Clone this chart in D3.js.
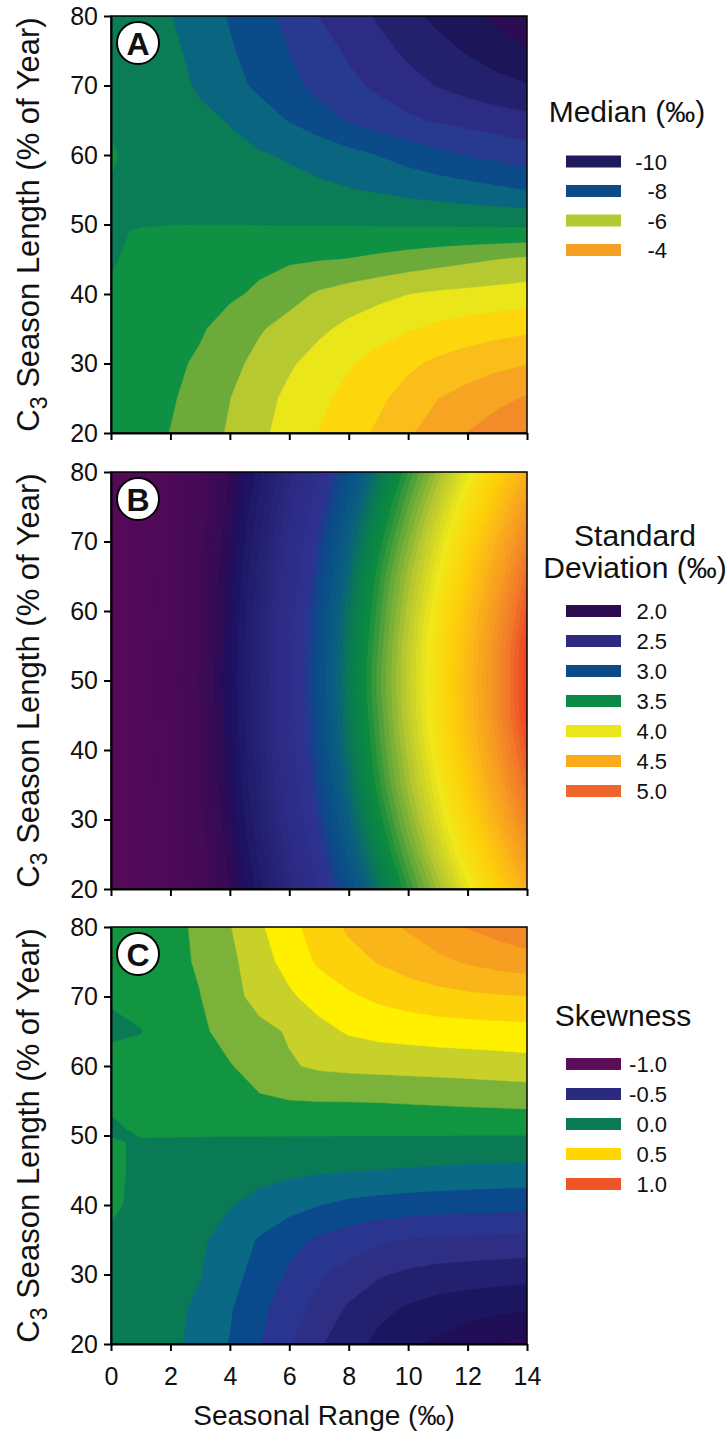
<!DOCTYPE html>
<html>
<head>
<meta charset="utf-8">
<script src="https://cdn.jsdelivr.net/npm/d3@7.9.0/dist/d3.min.js"></script>
<style>
  body { margin: 0; background: #fff; }
  text { font-family: "Liberation Sans", Arial, sans-serif; fill: #111; }
</style>
</head>
<body>
<div id="chart"></div>
<script>
// grid the simulations were read on: seasonal range (‰) and C3 season length (% of year)
const seasonalRange = [0, 1, 2, 3, 4, 5, 6, 7, 8, 9, 10, 11, 12, 13, 14];
const seasonLength = [80, 75, 70, 65, 60, 55, 51, 49, 45, 40, 35, 30, 25, 20];

// panel A: median (‰), one row per season length
const medianGrid = [
  [-7.12, -7.28, -7.49, -7.76, -8.04, -8.33, -8.64, -9.01, -9.28, -9.56, -9.85, -10.13, -10.38, -10.62, -10.85],
  [-7.10, -7.22, -7.40, -7.66, -7.95, -8.22, -8.51, -8.80, -9.08, -9.35, -9.60, -9.83, -10.05, -10.27, -10.48],
  [-7.10, -7.20, -7.35, -7.56, -7.84, -8.10, -8.37, -8.64, -8.88, -9.10, -9.33, -9.53, -9.70, -9.84, -9.97],
  [-7.05, -7.15, -7.28, -7.40, -7.53, -7.78, -8.03, -8.30, -8.55, -8.75, -8.92, -9.06, -9.16, -9.26, -9.36],
  [-6.96, -7.12, -7.20, -7.30, -7.38, -7.46, -7.56, -7.68, -7.85, -8.02, -8.20, -8.38, -8.52, -8.64, -8.76],
  [-7.02, -7.10, -7.14, -7.18, -7.22, -7.27, -7.33, -7.41, -7.48, -7.55, -7.64, -7.73, -7.82, -7.92, -8.02],
  [-7.05, -7.08, -7.10, -7.10, -7.12, -7.13, -7.14, -7.15, -7.16, -7.18, -7.19, -7.20, -7.22, -7.23, -7.25],
  [-7.05, -6.97, -6.92, -6.91, -6.90, -6.90, -6.90, -6.90, -6.90, -6.90, -6.90, -6.90, -6.90, -6.90, -6.90],
  [-7.03, -6.92, -6.82, -6.75, -6.68, -6.62, -6.57, -6.53, -6.49, -6.40, -6.30, -6.20, -6.10, -6.01, -5.92],
  [-6.96, -6.86, -6.78, -6.68, -6.58, -6.42, -6.18, -5.94, -5.78, -5.64, -5.51, -5.43, -5.38, -5.33, -5.28],
  [-6.90, -6.82, -6.70, -6.56, -6.30, -6.05, -5.82, -5.60, -5.38, -5.20, -5.04, -4.90, -4.78, -4.68, -4.60],
  [-6.88, -6.78, -6.62, -6.42, -6.15, -5.85, -5.57, -5.30, -5.05, -4.82, -4.60, -4.40, -4.25, -4.12, -4.03],
  [-6.85, -6.75, -6.56, -6.30, -6.01, -5.70, -5.38, -5.12, -4.85, -4.60, -4.30, -4.01, -3.82, -3.64, -3.45],
  [-6.80, -6.68, -6.49, -6.22, -5.95, -5.61, -5.30, -4.99, -4.70, -4.42, -4.07, -3.77, -3.49, -3.22, -2.95]
];

// panel B: standard deviation (‰)
const sdGrid = [
  [1.83, 1.86, 1.93, 2.05, 2.20, 2.38, 2.58, 2.81, 3.04, 3.29, 3.55, 3.81, 4.08, 4.35, 4.63],
  [1.83, 1.86, 1.94, 2.06, 2.22, 2.42, 2.63, 2.87, 3.12, 3.38, 3.65, 3.93, 4.21, 4.49, 4.79],
  [1.83, 1.86, 1.94, 2.08, 2.25, 2.45, 2.68, 2.93, 3.19, 3.46, 3.74, 4.03, 4.32, 4.62, 4.92],
  [1.83, 1.86, 1.95, 2.09, 2.27, 2.48, 2.72, 2.97, 3.24, 3.53, 3.82, 4.11, 4.41, 4.72, 5.03],
  [1.83, 1.86, 1.95, 2.10, 2.28, 2.50, 2.75, 3.01, 3.29, 3.57, 3.87, 4.18, 4.48, 4.80, 5.11],
  [1.83, 1.86, 1.96, 2.10, 2.29, 2.51, 2.76, 3.02, 3.31, 3.60, 3.91, 4.22, 4.53, 4.85, 5.18],
  [1.83, 1.86, 1.96, 2.11, 2.30, 2.52, 2.77, 3.04, 3.32, 3.62, 3.92, 4.23, 4.54, 4.86, 5.19],
  [1.83, 1.86, 1.96, 2.11, 2.30, 2.52, 2.77, 3.04, 3.32, 3.62, 3.92, 4.23, 4.54, 4.86, 5.19],
  [1.83, 1.86, 1.96, 2.10, 2.29, 2.51, 2.76, 3.02, 3.31, 3.60, 3.91, 4.22, 4.53, 4.85, 5.18],
  [1.83, 1.86, 1.95, 2.10, 2.28, 2.50, 2.75, 3.01, 3.29, 3.57, 3.87, 4.18, 4.48, 4.80, 5.11],
  [1.83, 1.86, 1.95, 2.09, 2.27, 2.48, 2.72, 2.97, 3.24, 3.53, 3.82, 4.11, 4.41, 4.72, 5.03],
  [1.83, 1.86, 1.94, 2.08, 2.25, 2.45, 2.68, 2.93, 3.19, 3.46, 3.74, 4.03, 4.32, 4.62, 4.92],
  [1.83, 1.86, 1.94, 2.06, 2.22, 2.42, 2.63, 2.87, 3.12, 3.38, 3.65, 3.93, 4.21, 4.49, 4.79],
  [1.83, 1.86, 1.93, 2.05, 2.20, 2.38, 2.58, 2.81, 3.04, 3.29, 3.55, 3.81, 4.08, 4.35, 4.63]
];

// panel C: skewness
const skewGrid = [
  [0.12, 0.14, 0.17, 0.22, 0.295, 0.385, 0.47, 0.545, 0.615, 0.665, 0.71, 0.755, 0.805, 0.84, 0.88],
  [0.12, 0.145, 0.175, 0.21, 0.275, 0.36, 0.435, 0.515, 0.565, 0.605, 0.645, 0.68, 0.71, 0.735, 0.755],
  [0.11, 0.15, 0.175, 0.198, 0.26, 0.34, 0.385, 0.44, 0.485, 0.52, 0.545, 0.565, 0.58, 0.59, 0.598],
  [0.08, 0.095, 0.16, 0.185, 0.23, 0.27, 0.31, 0.37, 0.41, 0.43, 0.44, 0.45, 0.455, 0.46, 0.465],
  [0.14, 0.15, 0.165, 0.18, 0.195, 0.235, 0.29, 0.315, 0.325, 0.33, 0.335, 0.34, 0.345, 0.352, 0.36],
  [0.12, 0.15, 0.16, 0.17, 0.18, 0.19, 0.198, 0.202, 0.203, 0.205, 0.21, 0.215, 0.22, 0.225, 0.23],
  [0.08, 0.12, 0.125, 0.125, 0.125, 0.125, 0.126, 0.127, 0.127, 0.127, 0.127, 0.127, 0.127, 0.127, 0.128],
  [0.11, 0.09, 0.085, 0.083, 0.08, 0.08, 0.078, 0.077, 0.076, 0.075, 0.074, 0.073, 0.072, 0.071, 0.07],
  [0.12, 0.08, 0.065, 0.05, 0.04, 0.03, 0.02, 0.012, 0.005, -0.002, -0.01, -0.016, -0.022, -0.027, -0.03],
  [0.12, 0.07, 0.05, 0.03, 0.005, -0.03, -0.065, -0.098, -0.125, -0.14, -0.15, -0.158, -0.163, -0.167, -0.172],
  [0.08, 0.07, 0.05, 0.015, -0.045, -0.11, -0.17, -0.215, -0.25, -0.285, -0.305, -0.315, -0.32, -0.325, -0.33],
  [0.06, 0.05, 0.035, 0.003, -0.065, -0.14, -0.215, -0.285, -0.34, -0.39, -0.42, -0.44, -0.45, -0.458, -0.465],
  [0.05, 0.04, 0.025, -0.02, -0.092, -0.178, -0.255, -0.335, -0.415, -0.47, -0.515, -0.545, -0.565, -0.58, -0.59],
  [0.04, 0.03, 0.025, -0.035, -0.105, -0.195, -0.29, -0.39, -0.455, -0.53, -0.575, -0.62, -0.655, -0.705, -0.73]
];

const xTicks = [0, 2, 4, 6, 8, 10, 12, 14];
const yTicks = [20, 30, 40, 50, 60, 70, 80];
const medianKeys = [-10, -8, -6, -4];
const sdKeys = [2.0, 2.5, 3.0, 3.5, 4.0, 4.5, 5.0];
const skewKeys = [-1.0, -0.5, 0.0, 0.5, 1.0];

// colours (one per contour band, lowest first)
const medianBands = ["#2b0b52", "#1c1558", "#23206e", "#2c2c84", "#283a90", "#0b4b8a", "#0a6680", "#0a7c56",
  "#0f9143", "#6cab3a", "#b7c931", "#ebe61a", "#fdd60b", "#fabd19", "#f6a421", "#f28b28", "#ef7a2b"];
const skewBands = ["#5a0f58", "#4c0c58", "#2e0a52", "#1f0e55", "#1c1560", "#242070", "#2e2e85", "#2a3590",
  "#0a4a8c", "#0a6a85", "#0a7a55", "#129540", "#7ab23a", "#c8d02a", "#fff000", "#fdd20a", "#f9b51a",
  "#f7a020", "#f28a28", "#ef7028", "#ee5628"];
const sdStops = [1.80, 2.10, 2.22, 2.30, 2.45, 2.65, 2.90, 3.00, 3.20, 3.32, 3.48, 3.68, 3.88, 4.12, 4.36, 4.58, 4.78, 4.97, 5.15, 5.30];
const sdStopColors = ["#560a58", "#420a56", "#300b55", "#1c1060", "#232070", "#2c2a84", "#2e3290", "#0a4a8a",
  "#0a6080", "#0a7a55", "#0b8a3c", "#6aaa3a", "#b8c830", "#f0e81a", "#fdd208", "#fbb518", "#f59a22",
  "#f17a28", "#ec4a24", "#e8361f"];
const medianKeyColors = ["#1e1a5c", "#0d4a88", "#b3c934", "#f6a023"];
const sdKeyColors = ["#2d0b4f", "#2e2a80", "#0a4a8a", "#0b8a45", "#e9e61b", "#f9ab1b", "#f0652a"];
const skewKeyColors = ["#5a0f58", "#2a2b7e", "#0a7a55", "#ffd600", "#ee5628"];

const width = 728;
const height = 1439;
const plot = { left: 111, right: 527, width: 416, height: 417 };

const svg = d3.select("#chart").append("svg")
  .attr("width", width)
  .attr("height", height);

const x = d3.scaleLinear().domain([0, 14]).range([plot.left, plot.right]);
const nx = seasonalRange.length;
const ny = seasonLength.length;
// grid index -> data value (rows are not evenly spaced near 50 %)
const colToR = d3.scaleLinear().domain(d3.range(nx)).range(seasonalRange);
const rowToL = d3.scaleLinear().domain(d3.range(ny)).range(seasonLength);

const sdColor = d3.scaleLinear().domain(sdStops).range(sdStopColors).clamp(true);
const oneDecimal = d => d.toFixed(1); // plain hyphen, as in the original

const panels = [
  {
    key: "A", top: 16, grid: medianGrid,
    thresholds: d3.range(-22, -5).map(i => i / 2),
    fill: (t, i) => medianBands[i],
    title: ["Median (‰)"], titleX: 627, titleY: 122,
    keys: medianKeys, keyColors: medianKeyColors, keyY: 161.5, keyStep: 29.5,
    fmt: d => String(d)
  },
  {
    key: "B", top: 472, grid: sdGrid,
    thresholds: d3.range(36, 106).map(i => i / 20),
    fill: t => sdColor(t + 0.025),
    title: ["Standard", "Deviation (‰)"], titleX: 635, titleY: 546,
    keys: sdKeys, keyColors: sdKeyColors, keyY: 611, keyStep: 30,
    fmt: oneDecimal
  },
  {
    key: "C", top: 927, grid: skewGrid,
    thresholds: d3.range(-10, 11).map(i => i / 10),
    fill: (t, i) => skewBands[i],
    title: ["Skewness"], titleX: 623, titleY: 1026,
    keys: skewKeys, keyColors: skewKeyColors, keyY: 1064, keyStep: 30,
    fmt: oneDecimal
  }
];

function styleAxis(g) {
  g.attr("font-size", null).attr("font-family", null);
  g.select(".domain").attr("stroke", "#000").attr("stroke-width", 2);
  g.selectAll(".tick line").attr("stroke", "#000").attr("stroke-width", 2);
  g.selectAll(".tick text").style("font-size", "25px").attr("fill", "#111");
}

panels.forEach((p, idx) => {
  const top = p.top;
  const y = d3.scaleLinear().domain([20, 80]).range([top + plot.height, top]);
  const g = svg.append("g");

  // clip the filled contours to the plot box
  svg.append("clipPath").attr("id", "clip" + p.key)
    .append("rect")
    .attr("x", plot.left).attr("y", top)
    .attr("width", plot.width).attr("height", plot.height);

  const proj = d3.geoTransform({
    point(px, py) {
      this.stream.point(x(colToR(px - 0.5)), y(rowToL(py - 0.5)));
    }
  });
  const path = d3.geoPath(proj);

  const contours = d3.contours()
    .size([nx, ny])
    .thresholds(p.thresholds)(p.grid.flat());

  const layer = g.append("g").attr("clip-path", `url(#clip${p.key})`);
  layer.append("rect")
    .attr("x", plot.left).attr("y", top)
    .attr("width", plot.width).attr("height", plot.height)
    .attr("fill", p.fill(p.thresholds[0], 0));
  layer.selectAll("path")
    .data(contours)
    .join("path")
    .attr("d", path)
    .attr("fill", (d, i) => p.fill(d.value, i))
    .attr("stroke", (d, i) => p.fill(d.value, i))
    .attr("stroke-width", 0.6);

  // frame
  g.append("rect")
    .attr("x", plot.left).attr("y", top)
    .attr("width", plot.width).attr("height", plot.height)
    .attr("fill", "none").attr("stroke", "#000").attr("stroke-width", 1.5);

  const last = idx === panels.length - 1;
  g.append("g")
    .attr("transform", `translate(0,${top + plot.height})`)
    .call(d3.axisBottom(x).tickValues(xTicks).tickSize(7).tickSizeOuter(0).tickPadding(16)
      .tickFormat(last ? d3.format("d") : () => ""))
    .call(styleAxis);

  g.append("g")
    .attr("transform", `translate(${plot.left},0)`)
    .call(d3.axisLeft(y).tickValues(yTicks).tickSize(7).tickSizeOuter(0).tickPadding(6))
    .call(styleAxis);

  // y axis title with subscript
  const yt = g.append("text")
    .attr("transform", `translate(39,${top + plot.height / 2}) rotate(-90)`)
    .attr("text-anchor", "middle")
    .style("font-size", "31px");
  yt.append("tspan").text("C");
  yt.append("tspan").attr("dy", 8).style("font-size", "23px").text("3");
  yt.append("tspan").attr("dy", -8).text(" Season Length (% of Year)");

  // panel badge
  g.append("circle")
    .attr("cx", 138).attr("cy", top + 27).attr("r", 21)
    .attr("fill", "#fff").attr("stroke", "#000").attr("stroke-width", 2);
  g.append("text")
    .attr("x", 138).attr("y", top + 27).attr("dy", "0.36em")
    .attr("text-anchor", "middle")
    .style("font-size", "32px").style("font-weight", "bold")
    .text(p.key);

  // legend
  const lg = svg.append("g");
  p.title.forEach((line, i) => {
    lg.append("text")
      .attr("x", p.titleX).attr("y", p.titleY + i * 32)
      .attr("text-anchor", "middle")
      .style("font-size", "30px")
      .text(line);
  });
  lg.selectAll("rect")
    .data(p.keys)
    .join("rect")
    .attr("x", 566)
    .attr("y", (d, i) => p.keyY + i * p.keyStep - 6)
    .attr("width", 55).attr("height", 12)
    .attr("fill", (d, i) => p.keyColors[i]);
  lg.selectAll("text.key")
    .data(p.keys)
    .join("text")
    .attr("class", "key")
    .attr("x", 667)
    .attr("y", (d, i) => p.keyY + i * p.keyStep + 8)
    .attr("text-anchor", "end")
    .style("font-size", "22px")
    .text(p.fmt);
});

svg.append("text")
  .attr("x", 324)
  .attr("y", 1425)
  .attr("text-anchor", "middle")
  .style("font-size", "28px")
  .text("Seasonal Range (‰)");
</script>
</body>
</html>
